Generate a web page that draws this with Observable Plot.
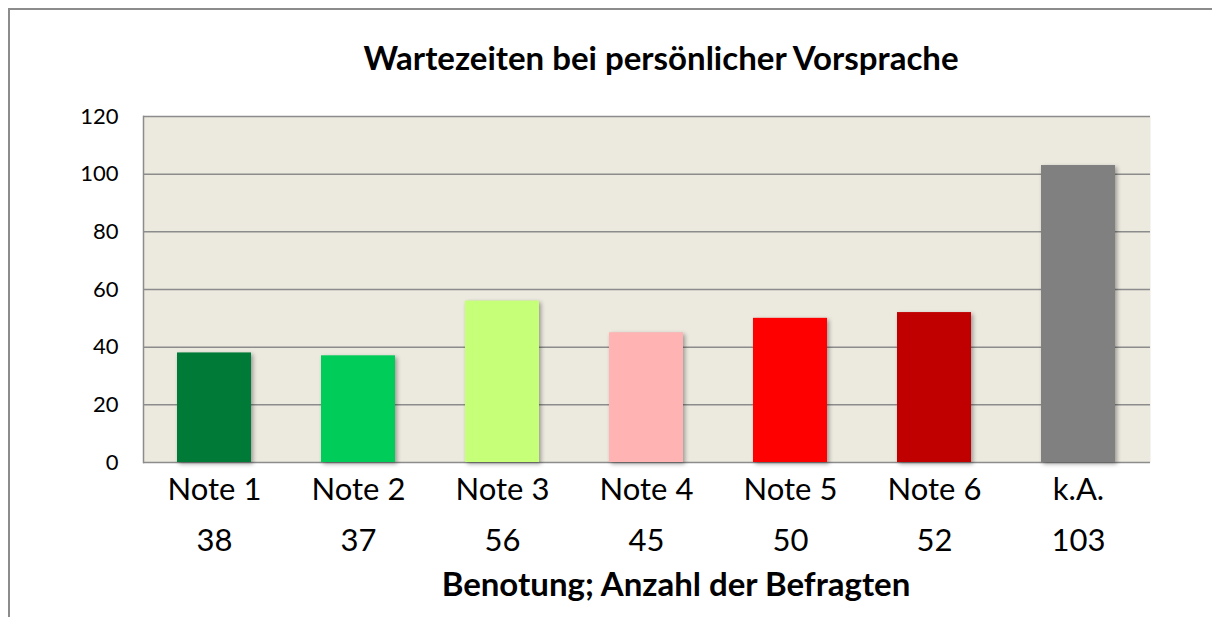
<!DOCTYPE html>
<html>
<head>
<meta charset="utf-8">
<script src="https://cdn.jsdelivr.net/npm/d3@7"></script>
<script src="https://cdn.jsdelivr.net/npm/@observablehq/plot@0.6"></script>
<style>
  html, body { margin: 0; padding: 0; background: #fff; }
  #wrap { position: relative; width: 1212px; height: 617px; overflow: hidden; font-family: Lato, "Open Sans", sans-serif; }
  #border { position: absolute; left: 8px; top: 8px; width: 1300px; height: 700px; border-left: 2px solid #8c8c8c; border-top: 2px solid #8c8c8c; }
  #title { position: absolute; left: 0; top: 37px; width: 1322px; text-align: center; font-weight: bold; font-size: 33px; color: #000; }
  #xtitle { position: absolute; left: 0; top: 563px; width: 1352px; text-align: center; font-weight: bold; font-size: 33px; color: #000; }
  #chart { position: absolute; left: 0; top: 0; }
  g[aria-label="bar"] rect { filter: drop-shadow(2px 2px 2px rgba(0,0,0,0.35)); }
</style>
</head>
<body>
<div id="wrap">
  <div id="border"></div>
  <div id="chart"></div>
  <div id="title">Wartezeiten bei persönlicher Vorsprache</div>
  <div id="xtitle">Benotung; Anzahl der Befragten</div>
</div>
<script>
const categories = ["Note 1", "Note 2", "Note 3", "Note 4", "Note 5", "Note 6", "k.A."];
const counts = [38, 37, 56, 45, 50, 52, 103];
const colors = ["#007A37", "#00CC5A", "#C6FF78", "#FFB3B3", "#FF0000", "#C00000", "#808080"];
const yTicks = [0, 20, 40, 60, 80, 100, 120];

const data = categories.map((c, i) => ({cat: c, n: counts[i], color: colors[i]}));

const chart = Plot.plot({
  width: 1212,
  height: 617,
  marginLeft: 143,
  marginRight: 62,
  marginTop: 116,
  marginBottom: 155,
  style: {background: "transparent", fontFamily: "Lato, 'Open Sans', sans-serif"},
  x: {domain: categories, paddingInner: 0.486, paddingOuter: 0.236, axis: null},
  y: {domain: [0, 120], axis: null},
  marks: [
    Plot.frame({fill: "#ECE9DF", stroke: null}),
    Plot.ruleY(yTicks, {stroke: "#8c8c8c", strokeWidth: 1.5}),
    Plot.frame({anchor: "left", stroke: "#8c8c8c", strokeWidth: 1.5}),
    Plot.barY(data, {x: "cat", y: "n", fill: "color"}),
    Plot.text(yTicks, {frameAnchor: "left", y: d => d, text: d => String(d), textAnchor: "end", dx: -25, fontSize: 22, fill: "#000"}),
    Plot.text(data, {x: "cat", y: () => 0, text: "cat", dy: 28, fontSize: 31, fill: "#000"}),
    Plot.text(data, {x: "cat", y: () => 0, text: d => String(d.n), dy: 79, fontSize: 31, fill: "#000"})
  ]
});
document.getElementById("chart").appendChild(chart);
</script>
</body>
</html>
